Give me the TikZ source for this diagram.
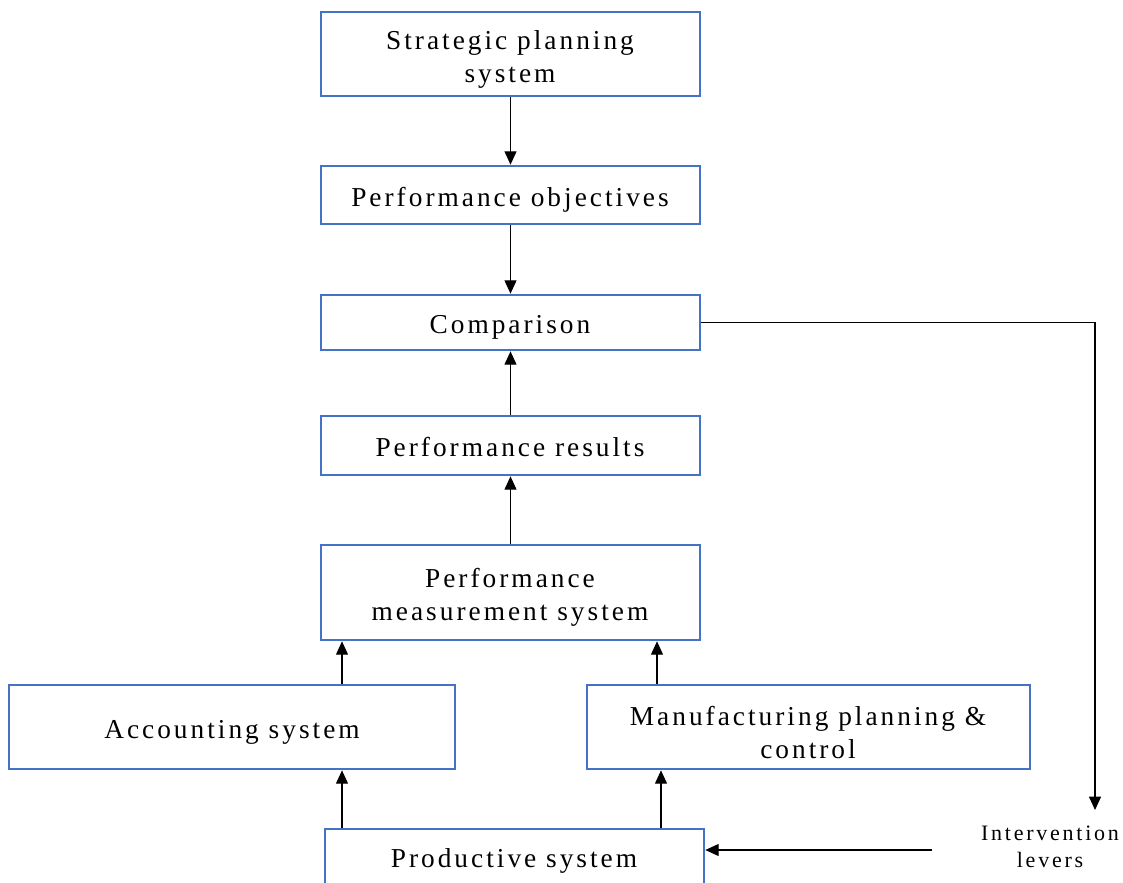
\documentclass[tikz,border=0pt]{standalone}
\usepackage{fontspec}
\setmainfont{Liberation Serif}[LetterSpace=11]
\usetikzlibrary{arrows.meta}
\definecolor{boxblue}{HTML}{4472C4}
\tikzset{
  box/.style={draw=boxblue, line width=2pt, fill=white, inner sep=0pt},
  txt/.style={align=center, inner sep=0pt, font=\fontsize{20.5}{24.75}\selectfont},
  smalltxt/.style={align=center, inner sep=0pt, font=\fontsize{16.5}{20.25}\selectfont\addfontfeature{LetterSpace=12.5}},
  arr/.style={draw=black, line width=0.8pt, -{Triangle[width=9pt,length=10pt]}}
}
\begin{document}
\begin{tikzpicture}[x=0.75pt,y=-0.75pt]
\useasboundingbox (0,0) rectangle (1123,882);
\clip (0,0) rectangle (1123,882);
\node[box, minimum width=284.25pt, minimum height=63pt] (spl) at (510.5,54) {};
\node[box, minimum width=284.25pt, minimum height=43.5pt] (pobj) at (510.5,195) {};
\node[box, minimum width=284.25pt, minimum height=41.25pt] (cmp) at (510.5,322.5) {};
\node[box, minimum width=284.25pt, minimum height=44.25pt] (pres) at (510.5,445.5) {};
\node[box, minimum width=284.25pt, minimum height=71.25pt] (pms) at (510.5,592.5) {};
\node[box, minimum width=334.5pt, minimum height=63pt] (acc) at (232,727) {};
\node[box, minimum width=332.25pt, minimum height=63pt] (mpc) at (808.5,727) {};
\node[box, minimum width=284.25pt, minimum height=43.5pt] (prod) at (514.5,858) {};

\node[txt] (spl-t) at (510,59) {Strategic planning\\system};
\node[txt] (pobj-t) at (510,200) {Performance objectives};
\node[txt] (cmp-t) at (510,327.5) {Comparison};
\node[txt] (pres-t) at (510,447) {Performance results};
\node[txt] (pms-t) at (510,597.5) {Performance\\measurement system};
\node[txt] (acc-t) at (232,732) {Accounting system};
\node[txt] (mpc-t) at (808,732) {Manufacturing planning \&\\control};
\node[txt] (prod-t) at (514,861) {Productive system};
\node[smalltxt] (lev) at (1050,847) {Intervention\\levers};

\coordinate (c1) at (342,0);
\coordinate (c2) at (657,0);
\coordinate (c3) at (661,0);
\coordinate (levtop) at (1095,810);
\coordinate (levl) at (932,850);

\draw[arr] (spl) -- (pobj);
\draw[arr] (pobj) -- (cmp);
\draw[arr] (pres) -- (cmp);
\draw[arr] (pms) -- (pres);
\draw[arr] (acc.north -| c1) -- (pms.south -| c1);
\draw[arr] (mpc.north -| c2) -- (pms.south -| c2);
\draw[arr] (prod.north -| c1) -- (acc.south -| c1);
\draw[arr] (prod.north -| c3) -- (mpc.south -| c3);
\draw[arr] (cmp.east) -- (cmp.east -| levtop) -- (levtop);
\draw[arr] (levl) -- (prod.east |- levl);
\end{tikzpicture}
\end{document}
